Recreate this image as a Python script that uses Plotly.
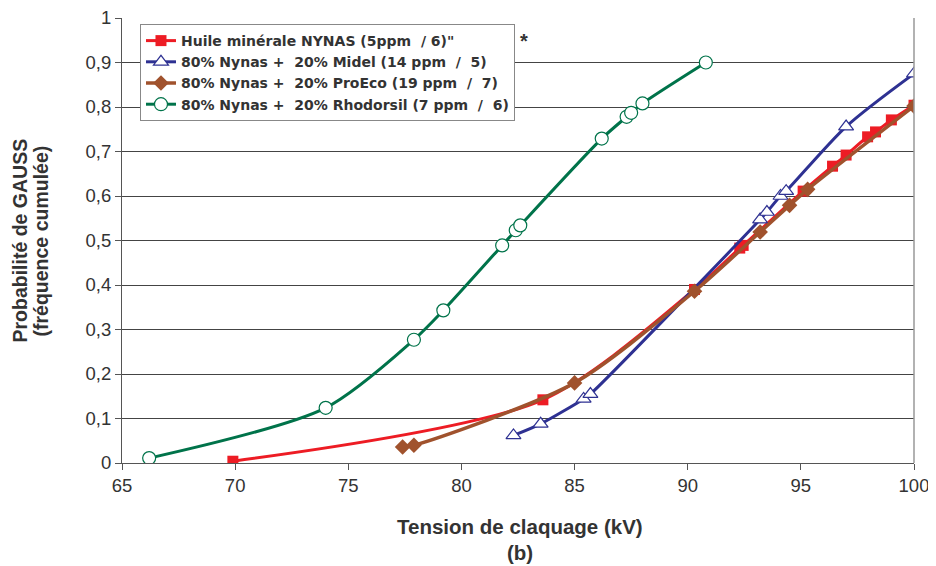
import plotly.graph_objects as go

# ---- data ----
nynas_x = [69.9, 83.6, 90.3, 92.3, 92.45, 95.1, 96.4, 97.0, 97.95, 98.3, 99.0, 100.0]
nynas_y = [0.004, 0.142, 0.390, 0.483, 0.489, 0.611, 0.667, 0.692, 0.733, 0.744, 0.771, 0.804]

midel_x = [82.3, 83.5, 85.4, 85.7, 93.2, 93.5, 94.1, 94.35, 97.0, 100.0]
midel_y = [0.062, 0.088, 0.144, 0.155, 0.547, 0.564, 0.600, 0.611, 0.756, 0.875]

proeco_x = [77.4, 77.9, 85.0, 90.3, 93.2, 94.5, 95.3, 100.0]
proeco_y = [0.036, 0.040, 0.180, 0.386, 0.519, 0.579, 0.615, 0.802]

rhodo_x = [66.2, 74.0, 77.9, 79.2, 81.8, 82.4, 82.6, 86.2, 87.3, 87.5, 88.0, 90.8]
rhodo_y = [0.011, 0.124, 0.277, 0.343, 0.489, 0.523, 0.534, 0.729, 0.778, 0.787, 0.808, 0.900]

names = ["Huile minérale NYNAS (5ppm  / 6)\"",
         "80% Nynas +  20% Midel (14 ppm  /  5)",
         "80% Nynas +  20% ProEco (19 ppm  /  7)",
         "80% Nynas +  20% Rhodorsil (7 ppm  /  6)"]

x_ticks = [65, 70, 75, 80, 85, 90, 95, 100]
y_ticks = [0, 0.1, 0.2, 0.3, 0.4, 0.5, 0.6, 0.7, 0.8, 0.9, 1]
y_ticklabels = ["0", "0,1", "0,2", "0,3", "0,4", "0,5", "0,6", "0,7", "0,8", "0,9", "1"]

x_title = "Tension de claquage (kV)"
x_subtitle = "(b)"
y_title = ["Probabilité de GAUSS", "(fréquence cumulée)"]

RED = "#ed1c24"
BLUE = "#2e3192"
BROWN = "#a0522d"
GREEN = "#00734a"
TXT = "#333333"

fig = go.Figure()
fig.add_trace(go.Scatter(x=nynas_x, y=nynas_y, name=names[0], mode="lines+markers",
                         line=dict(color=RED, width=3, shape="spline", smoothing=0.8),
                         marker=dict(symbol="square", size=11, color=RED)))
fig.add_trace(go.Scatter(x=midel_x, y=midel_y, name=names[1], mode="lines+markers",
                         line=dict(color=BLUE, width=3, shape="spline", smoothing=0.8),
                         marker=dict(symbol="triangle-up", size=13, color="white",
                                     line=dict(color=BLUE, width=1.2))))
fig.add_trace(go.Scatter(x=proeco_x, y=proeco_y, name=names[2], mode="lines+markers",
                         line=dict(color=BROWN, width=3.5, shape="spline", smoothing=0.8),
                         marker=dict(symbol="diamond", size=12, color=BROWN)))
fig.add_trace(go.Scatter(x=rhodo_x, y=rhodo_y, name=names[3], mode="lines+markers",
                         line=dict(color=GREEN, width=3, shape="spline", smoothing=0.8),
                         marker=dict(symbol="circle", size=13, color="white",
                                     line=dict(color=GREEN, width=1.2))))

bold = dict(family="Liberation Sans, Arial, sans-serif", color=TXT, weight="bold")

fig.add_annotation(text="*", x=0.5076, y=0.9775, xref="paper", yref="paper",
                   showarrow=False, font=dict(size=20, **bold))
# axis titles
fig.add_annotation(text=x_title, x=0.5025, y=-0.1438, xref="paper", yref="paper",
                   xanchor="center", yanchor="middle", showarrow=False, font=dict(size=20.5, **bold))
fig.add_annotation(text=x_subtitle, x=0.5025, y=-0.2022, xref="paper", yref="paper",
                   xanchor="center", yanchor="middle", showarrow=False, font=dict(size=20.5, **bold))
fig.add_annotation(text=y_title[0], x=-0.1288, y=0.5, xref="paper", yref="paper", textangle=-90,
                   xanchor="center", yanchor="middle", showarrow=False, font=dict(size=19.5, **bold))
fig.add_annotation(text=y_title[1], x=-0.1023, y=0.5, xref="paper", yref="paper", textangle=-90,
                   xanchor="center", yanchor="middle", showarrow=False, font=dict(size=19.5, **bold))

fig.update_layout(
    width=936, height=566,
    margin=dict(l=114, r=30, t=10, b=111),
    paper_bgcolor="white", plot_bgcolor="white",
    font=dict(family="Liberation Sans, Arial, sans-serif", color=TXT),
    showlegend=True,
    legend=dict(x=0.0227, y=0.9865, xanchor="left", yanchor="top",
                bgcolor="white", bordercolor="#888", borderwidth=1,
                font=dict(size=14, color=TXT, weight="bold", family="DejaVu Sans, sans-serif"),
                tracegroupgap=0, itemwidth=30),
    xaxis=dict(range=[65, 100], tickvals=x_ticks, ticktext=[str(v) for v in x_ticks],
               showgrid=False, zeroline=False, showline=True, linecolor="#555", linewidth=1,
               mirror=False, ticks="outside", ticklen=6, tickcolor="#555", automargin=False,
               ticklabeloverflow="allow",
               tickfont=dict(size=18.5, color=TXT)),
    yaxis=dict(range=[0, 1], tickvals=y_ticks, ticktext=y_ticklabels,
               showgrid=True, gridcolor="#444", gridwidth=1, zeroline=False,
               showline=True, linecolor="#555", linewidth=1, automargin=False,
               ticklabeloverflow="allow",
               ticks="outside", ticklen=6, tickcolor="#555",
               tickfont=dict(size=18.5, color=TXT)),
)
# right border of plot area
fig.add_shape(type="line", xref="paper", yref="paper", x0=1, x1=1, y0=0, y1=1,
              line=dict(color="#999", width=1.5))

fig.write_html("out.html")
